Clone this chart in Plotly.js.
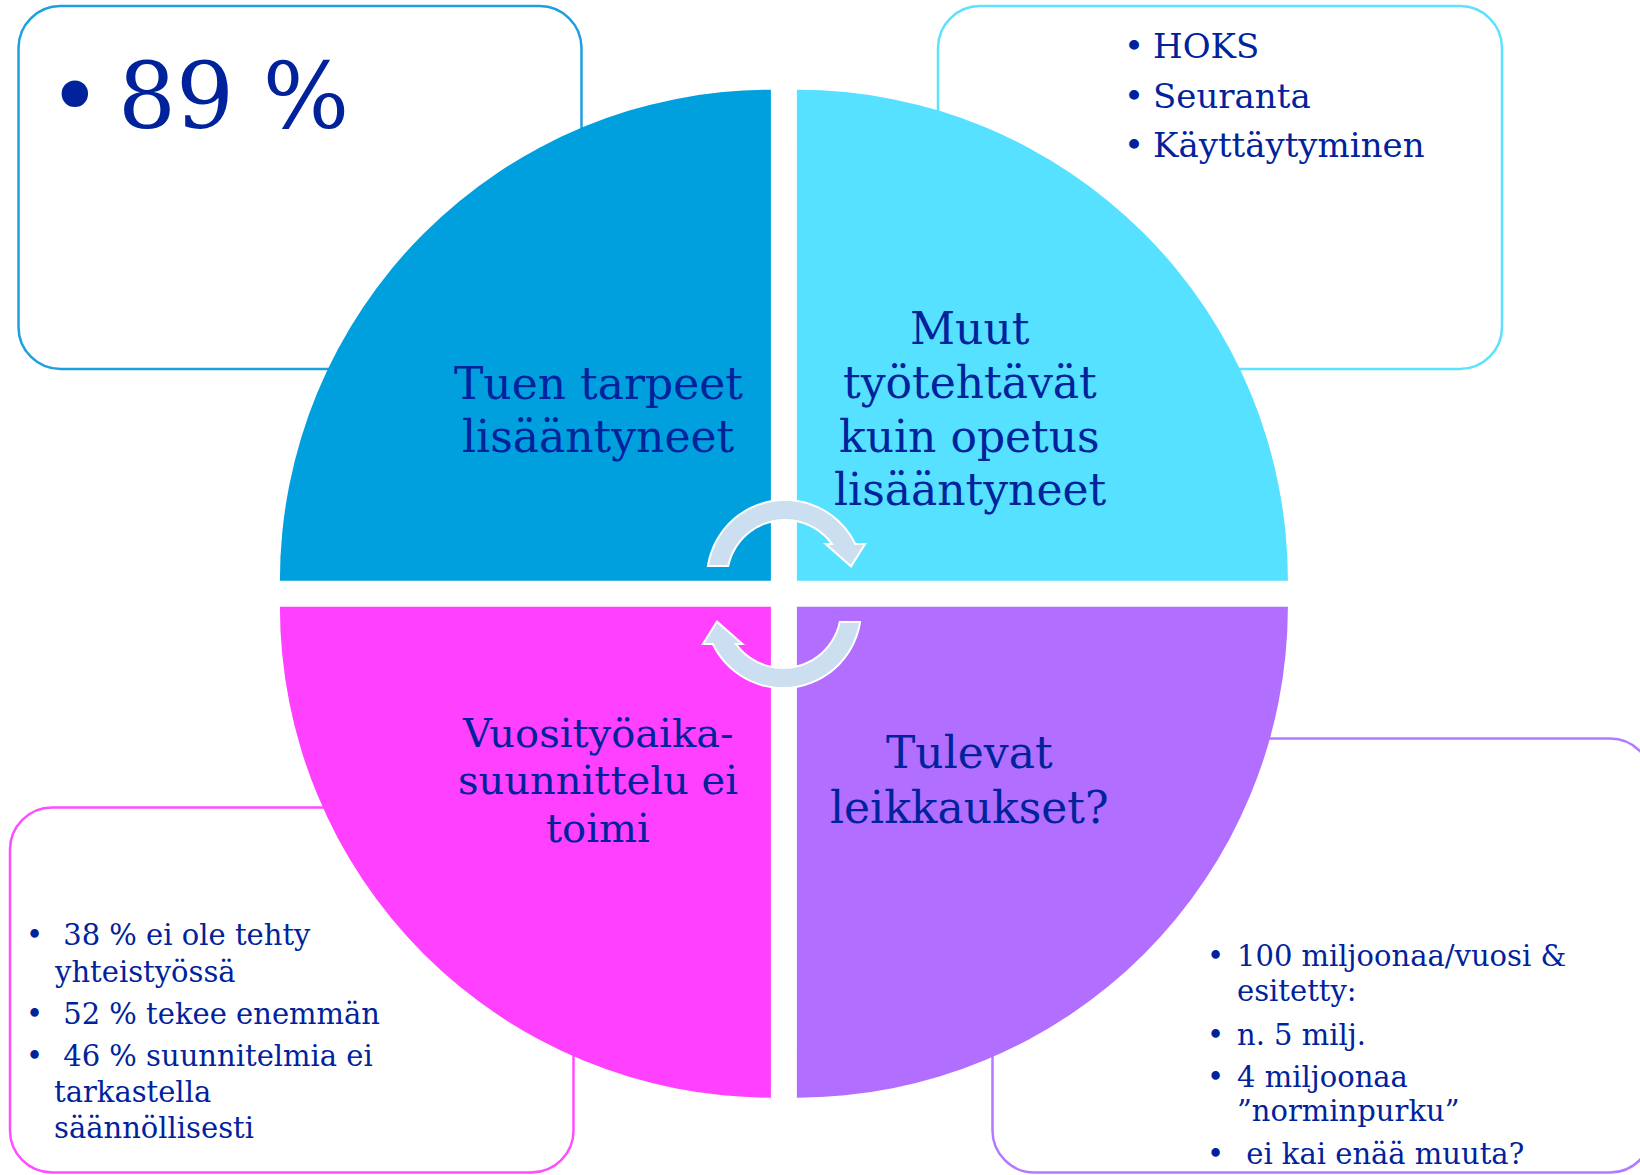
<!DOCTYPE html>
<html>
<head>
<meta charset="utf-8">
<script src="https://cdn.plot.ly/plotly-3.0.1.min.js"></script>
<style>
html,body{margin:0;padding:0;background:#ffffff;}
#chart{width:1640px;height:1175px;}
</style>
</head>
<body>
<div id="chart"></div>
<script>
// ---------------- data ----------------
// quadrants, clockwise from 12 o'clock: top-right, bottom-right, bottom-left, top-left
const quadrantNames = ['Muut työtehtävät kuin opetus lisääntyneet', 'Tulevat leikkaukset?', 'Vuosityöaika-suunnittelu ei toimi', 'Tuen tarpeet lisääntyneet'];
const quadrantValues = [1, 1, 1, 1];

const labelTopLeft = ['Tuen tarpeet', 'lisääntyneet'];
const labelTopRight = ['Muut', 'työtehtävät', 'kuin opetus', 'lisääntyneet'];
const labelBottomLeft = ['Vuosityöaika-', 'suunnittelu ei', 'toimi'];
const labelBottomRight = ['Tulevat', 'leikkaukset?'];

const boxTopLeftItems = [['89 %']];
const boxTopRightItems = [['HOKS'], ['Seuranta'], ['Käyttäytyminen']];
const boxBottomLeftItems = [[' 38 % ei ole tehty', 'yhteistyössä'], [' 52 % tekee enemmän'], [' 46 % suunnitelmia ei', 'tarkastella', 'säännöllisesti']];
const boxBottomRightItems = [['100 miljoonaa/vuosi &', 'esitetty:'], ['n. 5 milj.'], ['4 miljoonaa', '”norminpurku”'], [' ei kai enää muuta?']];

// ---------------- styles / layout geometry ----------------
const W = 1640, H = 1175;
const NAVY = '#00239C';
const FONT = 'DejaVu Serif';
const quadColors = ['#55E1FF', '#B16EFF', '#FF40FF', '#00A0DF']; // TR, BR, BL, TL
const px = x => x / W;
const py = y => 1 - y / H;
const P = (x, y) => px(x).toFixed(6) + ',' + py(y).toFixed(6);

// circle geometry (pixels)
const CX = 783.9, CY = 593.7, R = 491, GAP = 26;
const pullPx = GAP / Math.SQRT2;
const pull = pullPx / R;
const half = R * (1 + pull);

// rounded rectangle path
function roundRect(x0, y0, x1, y1, r) {
  const k = 0.5523 * r;
  return 'M' + P(x0 + r, y0) +
    ' L' + P(x1 - r, y0) +
    ' C' + P(x1 - r + k, y0) + ' ' + P(x1, y0 + r - k) + ' ' + P(x1, y0 + r) +
    ' L' + P(x1, y1 - r) +
    ' C' + P(x1, y1 - r + k) + ' ' + P(x1 - r + k, y1) + ' ' + P(x1 - r, y1) +
    ' L' + P(x0 + r, y1) +
    ' C' + P(x0 + r - k, y1) + ' ' + P(x0, y1 - r + k) + ' ' + P(x0, y1 - r) +
    ' L' + P(x0, y0 + r) +
    ' C' + P(x0, y0 + r - k) + ' ' + P(x0 + r - k, y0) + ' ' + P(x0 + r, y0) + ' Z';
}

// circular arrow path
function arrowPath(cx, cy, rot) {
  const ro = 78, ri = 58;
  const pol = (r, deg) => { const a = (deg + rot) * Math.PI / 180; return [cx + r * Math.cos(a), cy - r * Math.sin(a)]; };
  const pts = [];
  for (let d = 171.2; d > 25.8; d -= 2) pts.push(pol(ro, d));
  pts.push(pol(ro, 25.8));
  pts.push(pol(87, 23));
  pts.push(pol(67, 10));
  pts.push(pol(53, 40));
  pts.push(pol(ri, 35.9));
  for (let d = 37.9; d < 168.1; d += 2) pts.push(pol(ri, d));
  pts.push(pol(ri, 168.1));
  return 'M' + pts.map(p => P(p[0], p[1])).join(' L') + ' Z';
}

const shapes = [
  {type: 'path', xref: 'paper', yref: 'paper', layer: 'below', path: roundRect(18.5, 6, 581.5, 369, 42), line: {color: '#1EA0E0', width: 2.5}},
  {type: 'path', xref: 'paper', yref: 'paper', layer: 'below', path: roundRect(938, 6, 1502, 369, 42), line: {color: '#5CE1FF', width: 2.5}},
  {type: 'path', xref: 'paper', yref: 'paper', layer: 'below', path: roundRect(10, 807.5, 573.5, 1172.5, 42), line: {color: '#FF4DFF', width: 2.5}},
  {type: 'path', xref: 'paper', yref: 'paper', layer: 'below', path: roundRect(992.5, 738.5, 1652, 1172.5, 42), line: {color: '#B37AFF', width: 2.5}},
  {type: 'path', xref: 'paper', yref: 'paper', layer: 'above', path: arrowPath(785, 578, 0), fillcolor: '#CCDFF0', line: {color: '#FFFFFF', width: 2}},
  {type: 'path', xref: 'paper', yref: 'paper', layer: 'above', path: arrowPath(783, 610, 180), fillcolor: '#CCDFF0', line: {color: '#FFFFFF', width: 2}}
];

const annotations = [];
function addText(text, x, y, size, anchor) {
  annotations.push({
    text: text.replace(/^ /, '\u00a0'), x: px(x), y: py(y), xref: 'paper', yref: 'paper',
    xanchor: anchor, yanchor: 'middle', showarrow: false,
    font: {family: FONT, size: size, color: NAVY}
  });
}

// quadrant labels
const tlY = [383, 436];
labelTopLeft.forEach((t, i) => addText(t, 598, tlY[i], 44, 'center'));
const trY = [328.5, 382, 436, 489.5];
labelTopRight.forEach((t, i) => addText(t, 969.5, trY[i], 44, 'center'));
const blY = [733, 780, 828];
labelBottomLeft.forEach((t, i) => addText(t, 597.7, blY[i], 40, 'center'));
const brY = [753, 807];
labelBottomRight.forEach((t, i) => addText(t, 969, brY[i], 44, 'center'));

// bullet lists
function addList(items, bulletX, textX, lineYs, size, bulletSize) {
  let k = 0;
  items.forEach(item => {
    item.forEach((line, j) => {
      if (j === 0) addText('•', bulletX, lineYs[k], bulletSize, 'center');
      addText(line, textX, lineYs[k], size, 'left');
      k++;
    });
  });
}
addList(boxTopLeftItems, 74.6, 116, [96.5], 91, 91);
addList(boxTopRightItems, 1134, 1151, [46.5, 96, 144.5], 34, 34);
addList(boxBottomLeftItems, 34.5, 52.3, [935, 972, 1013.5, 1055.5, 1092, 1127.5], 29, 29);
addList(boxBottomRightItems, 1215.7, 1234.6, [956, 991, 1035, 1077, 1111, 1153.5], 29, 29);

const pieTrace = {
  type: 'pie',
  values: quadrantValues,
  labels: quadrantNames,
  sort: false,
  direction: 'clockwise',
  rotation: 0,
  pull: quadrantValues.map(() => pull),
  marker: {colors: quadColors, line: {width: 0}},
  textinfo: 'none',
  hoverinfo: 'skip',
  showlegend: false,
  domain: {
    x: [(CX - half) / W, (CX + half) / W],
    y: [(H - CY - half) / H, (H - CY + half) / H]
  }
};

const layout = {
  width: W, height: H,
  margin: {l: 0, r: 0, t: 0, b: 0, pad: 0},
  paper_bgcolor: '#ffffff',
  plot_bgcolor: '#ffffff',
  showlegend: false,
  shapes: shapes,
  annotations: annotations
};

Plotly.newPlot('chart', [pieTrace], layout, {staticPlot: true, displayModeBar: false});
</script>
</body>
</html>
